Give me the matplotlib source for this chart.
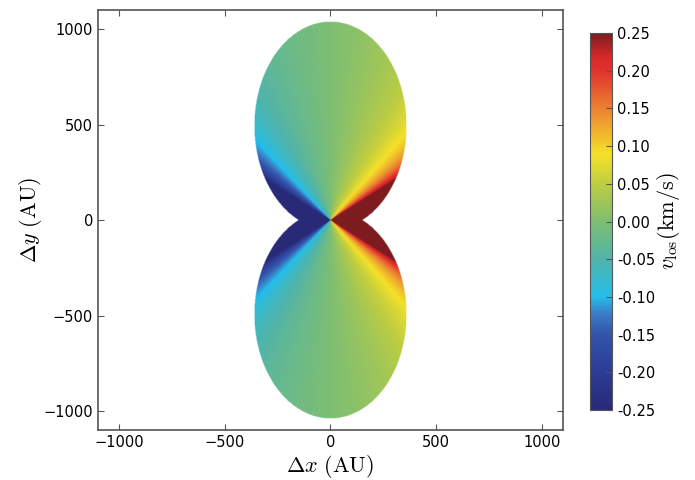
import numpy as np
import matplotlib
matplotlib.use("Agg")
import matplotlib.pyplot as plt
from matplotlib.colors import LinearSegmentedColormap

plt.rcParams['mathtext.fontset'] = 'cm'

# lobe geometry (AU)
lobe_center = 495.0
lobe_a = 360.0
lobe_b = 545.0

# v_los model: t = |x|/|y|, v = sign(x) * (lin * t + cub * t**3), clipped by the colour scale
v_lin = 0.09
v_cub = 0.04
vmin, vmax = -0.25, 0.25

# colour scale (washed-out jet, sampled from the colourbar)
cbar_vals = [-0.25, -0.2, -0.15, -0.125, -0.1, -0.05, 0.0, 0.05, 0.09, 0.15, 0.2, 0.22, 0.25]
cbar_cols = ['#282a78', '#2d3c96', '#3255aa', '#3c78c3', '#23beeb', '#50b4aa', '#7dbe73',
             '#becd41', '#f5e128', '#eb8232', '#e1322d', '#d72828', '#7d1c20']

ticks_xy = [-1000, -500, 0, 500, 1000]
cbar_ticks = [-0.25, -0.2, -0.15, -0.1, -0.05, 0.0, 0.05, 0.1, 0.15, 0.2, 0.25]

x = np.linspace(-1100, 1100, 1101)
y = np.linspace(-1100, 1100, 1101)
X, Y = np.meshgrid(x, y)

inside = ((X / lobe_a) ** 2 + ((Y - lobe_center) / lobe_b) ** 2 <= 1) | \
         ((X / lobe_a) ** 2 + ((Y + lobe_center) / lobe_b) ** 2 <= 1)

with np.errstate(divide='ignore', invalid='ignore'):
    T = np.clip(np.abs(X) / np.abs(Y), 0, 20)
T = np.nan_to_num(T, nan=0.0)
V = np.sign(X) * (v_lin * T + v_cub * T ** 3)
V = np.clip(V, -1, 1)
V = np.ma.masked_where(~inside, V)

pos = [(v - vmin) / (vmax - vmin) for v in cbar_vals]
cmap = LinearSegmentedColormap.from_list('washed_jet', list(zip(pos, cbar_cols)))
cmap.set_bad('white')

fig = plt.figure(figsize=(6.95, 4.8), dpi=100)
ax = fig.add_axes([0.141, 0.104, 0.669, 0.875])
im = ax.imshow(V, origin='lower', extent=[-1100, 1100, -1100, 1100],
               cmap=cmap, vmin=vmin, vmax=vmax, aspect='auto',
               interpolation='bilinear')
ax.set_xlim(-1100, 1100)
ax.set_ylim(-1100, 1100)
ax.set_xticks(ticks_xy)
ax.set_yticks(ticks_xy)
ax.tick_params(direction='in', top=True, right=True, labelsize=10.5,
               length=4, color='#555555')
for s in ax.spines.values():
    s.set_color('#555555')
    s.set_linewidth(1.2)
ax.set_xlabel(r'$\Delta x\ \mathrm{(AU)}$', fontsize=16, labelpad=2)
ax.set_ylabel(r'$\Delta y\ \mathrm{(AU)}$', fontsize=16, labelpad=0)

cax = fig.add_axes([0.849, 0.146, 0.032, 0.785])
cb = fig.colorbar(im, cax=cax, ticks=cbar_ticks)
cb.ax.tick_params(direction='in', labelsize=10.5, length=4, color='#555555')
cb.outline.set_edgecolor('#555555')
cb.ax.yaxis.set_major_formatter(matplotlib.ticker.FormatStrFormatter('%.2f'))
cb.set_label(r'$v_{\rm los} (\rm km/s)$', fontsize=16, labelpad=0)

fig.savefig('out.png', dpi=100)
